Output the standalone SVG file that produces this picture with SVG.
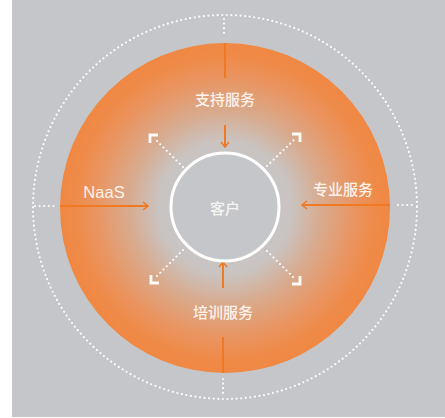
<svg xmlns="http://www.w3.org/2000/svg" width="445" height="418" viewBox="0 0 445 418">
  <defs>
    <radialGradient id="glow" gradientUnits="userSpaceOnUse" cx="225" cy="208" r="165">
      <stop offset="0" stop-color="#c6c7ca"/>
      <stop offset="0.4" stop-color="#c9c4c2"/>
      <stop offset="0.58" stop-color="#d8ab8f"/>
      <stop offset="0.78" stop-color="#e99562"/>
      <stop offset="0.92" stop-color="#ef8a48"/>
      <stop offset="1" stop-color="#f08843"/>
    </radialGradient>
    <marker id="oarrow" viewBox="0 0 10 10" refX="9" refY="5" markerWidth="10" markerHeight="10" markerUnits="userSpaceOnUse" orient="auto">
      <path d="M4,1 L9,5 L4,9" fill="none" stroke="#f07a24" stroke-width="1.6"/>
    </marker>
    <style>
      .olin { stroke: #f07a24; stroke-width: 2; fill: none; }
      .dots { stroke: #ffffff; stroke-width: 2.2; stroke-linecap: round; stroke-dasharray: 0 4.6; fill: none; opacity: 0.95; }
      .head { stroke: #ffffff; stroke-width: 2.8; fill: none; opacity: 0.95; }
      .lbl { font-family: "Noto Sans CJK SC", "Noto Sans", sans-serif; font-size: 15px; font-weight: 500; fill: #fdf3ec; text-anchor: middle; }
      .naas { font-family: "Liberation Sans", Arial, sans-serif; font-size: 16.5px; fill: #fdf3ec; text-anchor: middle; }
    </style>
  </defs>
  <rect x="0" y="0" width="445" height="418" fill="#ffffff"/>
  <rect x="12" y="0" width="433" height="417" fill="#c5c6c9"/>

  <g id="outer-ring">
    <circle class="dots" cx="225" cy="207" r="192"/>
  </g>

  <g id="service-disc">
    <circle cx="225" cy="208" r="165" fill="url(#glow)"/>
  </g>

  <g id="connectors">
    <line class="dots" x1="224" y1="19" x2="224" y2="36"/>
    <line class="dots" x1="223" y1="379" x2="223" y2="396"/>
    <line class="dots" x1="35" y1="206" x2="54" y2="206"/>
    <line class="dots" x1="398" y1="205" x2="414" y2="205"/>

    <line class="olin" x1="225" y1="43" x2="225" y2="78"/>
    <line class="olin" x1="223" y1="337" x2="223" y2="373"/>
    <line class="olin" x1="60" y1="206" x2="148" y2="206" marker-end="url(#oarrow)"/>
    <line class="olin" x1="390" y1="205" x2="302" y2="205" marker-end="url(#oarrow)"/>
    <line class="olin" x1="225" y1="125" x2="225" y2="147" marker-end="url(#oarrow)"/>
    <line class="olin" x1="223" y1="288" x2="223" y2="262" marker-end="url(#oarrow)"/>

    <line class="dots" x1="183" y1="167" x2="155" y2="139"/>
    <path class="head" d="M158,135 L150,135 L150,143"/>
    <line class="dots" x1="267" y1="166" x2="296" y2="138"/>
    <path class="head" d="M292,134 L300,134 L300,142"/>
    <line class="dots" x1="183" y1="250" x2="155" y2="278"/>
    <path class="head" d="M151,275 L151,283 L159,283"/>
    <line class="dots" x1="267" y1="251" x2="295" y2="279"/>
    <path class="head" d="M292,284 L300,284 L300,276"/>
  </g>

  <g id="customer">
    <circle cx="225" cy="207" r="54" fill="#c5c6c9" stroke="#ffffff" stroke-width="3"/>
    <text class="lbl" x="225" y="214" style="font-size:15px; fill:#f4f4f4">客户</text>
  </g>

  <g id="support">
    <text class="lbl" x="225" y="105">支持服务</text>
  </g>
  <g id="training">
    <text class="lbl" x="223" y="318">培训服务</text>
  </g>
  <g id="professional">
    <text class="lbl" x="343" y="195">专业服务</text>
  </g>
  <g id="naas">
    <text class="naas" x="104" y="198">NaaS</text>
  </g>
</svg>
